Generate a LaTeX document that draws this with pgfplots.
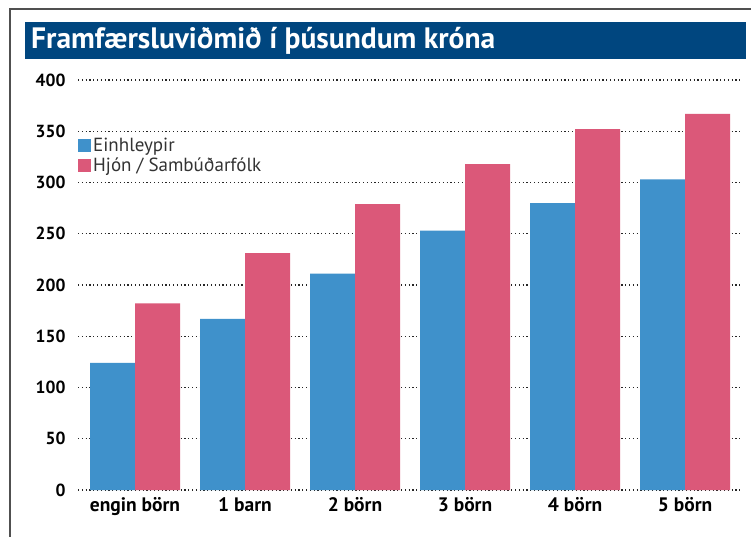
\documentclass[border=0pt]{standalone}
\usepackage{pgfplots}
\pgfplotsset{compat=1.18}
\usepackage{fontspec}
\setmainfont{PT Sans}
\definecolor{cblue}{HTML}{3F91CB}
\definecolor{cpink}{HTML}{DB5879}
\definecolor{tblue}{HTML}{00467F}
\definecolor{frame}{HTML}{505050}
\pgfplotsset{sqleg/.style={legend image code/.code={\path[##1,draw=none] (0pt,-6.5pt) rectangle (13pt,6.5pt);}}}
\begin{document}
\begin{tikzpicture}
\useasboundingbox (0pt,0pt) rectangle (751pt,-537pt);
\fill[white] (0pt,0pt) rectangle (751pt,-537pt);
\draw[frame, line width=1.3pt] (10pt,-537pt) -- (10pt,-9pt) -- (751pt,-9pt);
\fill[tblue] (25pt,-22pt) rectangle (746pt,-59pt);
\node[anchor=base west, inner sep=0pt, text=white, font=\fontsize{29.5}{31}\selectfont\bfseries] at (31pt,-49pt) {Framfærsluviðmið í þúsundum króna};
\begin{axis}[
  at={(135pt,-490pt)}, anchor=origin,
  scale only axis, width=664pt, height=410pt,
  xmin=-0.518, xmax=5.518, ymin=0, ymax=400,
  ybar=0pt, bar width=45pt,
  axis line style={draw=none},
  major tick length=0pt,
  ytick={0,50,...,400},
  xtick={0,1,2,3,4,5},
  xticklabels={engin börn, 1 barn, 2 börn, 3 börn, 4 börn, 5 börn},
  ymajorgrids,
  grid style={black!85, line width=1.2pt, dash pattern=on 1.2pt off 2.6pt},
  /pgf/number format/assume math mode=true,
  yticklabel style={font=\fontsize{17.5}{19}\selectfont\bfseries, xshift=-9pt, text=black},
  xticklabel style={font=\fontsize{19.5}{21}\selectfont\bfseries, yshift=-4pt, text=black},
  legend style={at={(axis description cs:0,0.865)}, anchor=north west, draw=none, fill=none, inner sep=0pt, font=\fontsize{19}{21}\selectfont, row sep=1pt, text=black!80},
  legend cell align=left,
]
\addplot[fill=cblue, draw=none, sqleg] coordinates {(0,124) (1,167) (2,211) (3,253) (4,280) (5,303)};
\addplot[fill=cpink, draw=none, sqleg] coordinates {(0,182) (1,231) (2,279) (3,318) (4,352) (5,367)};
\legend{Einhleypir, Hjón / Sambúðarfólk}
\end{axis}
\end{tikzpicture}
\end{document}
